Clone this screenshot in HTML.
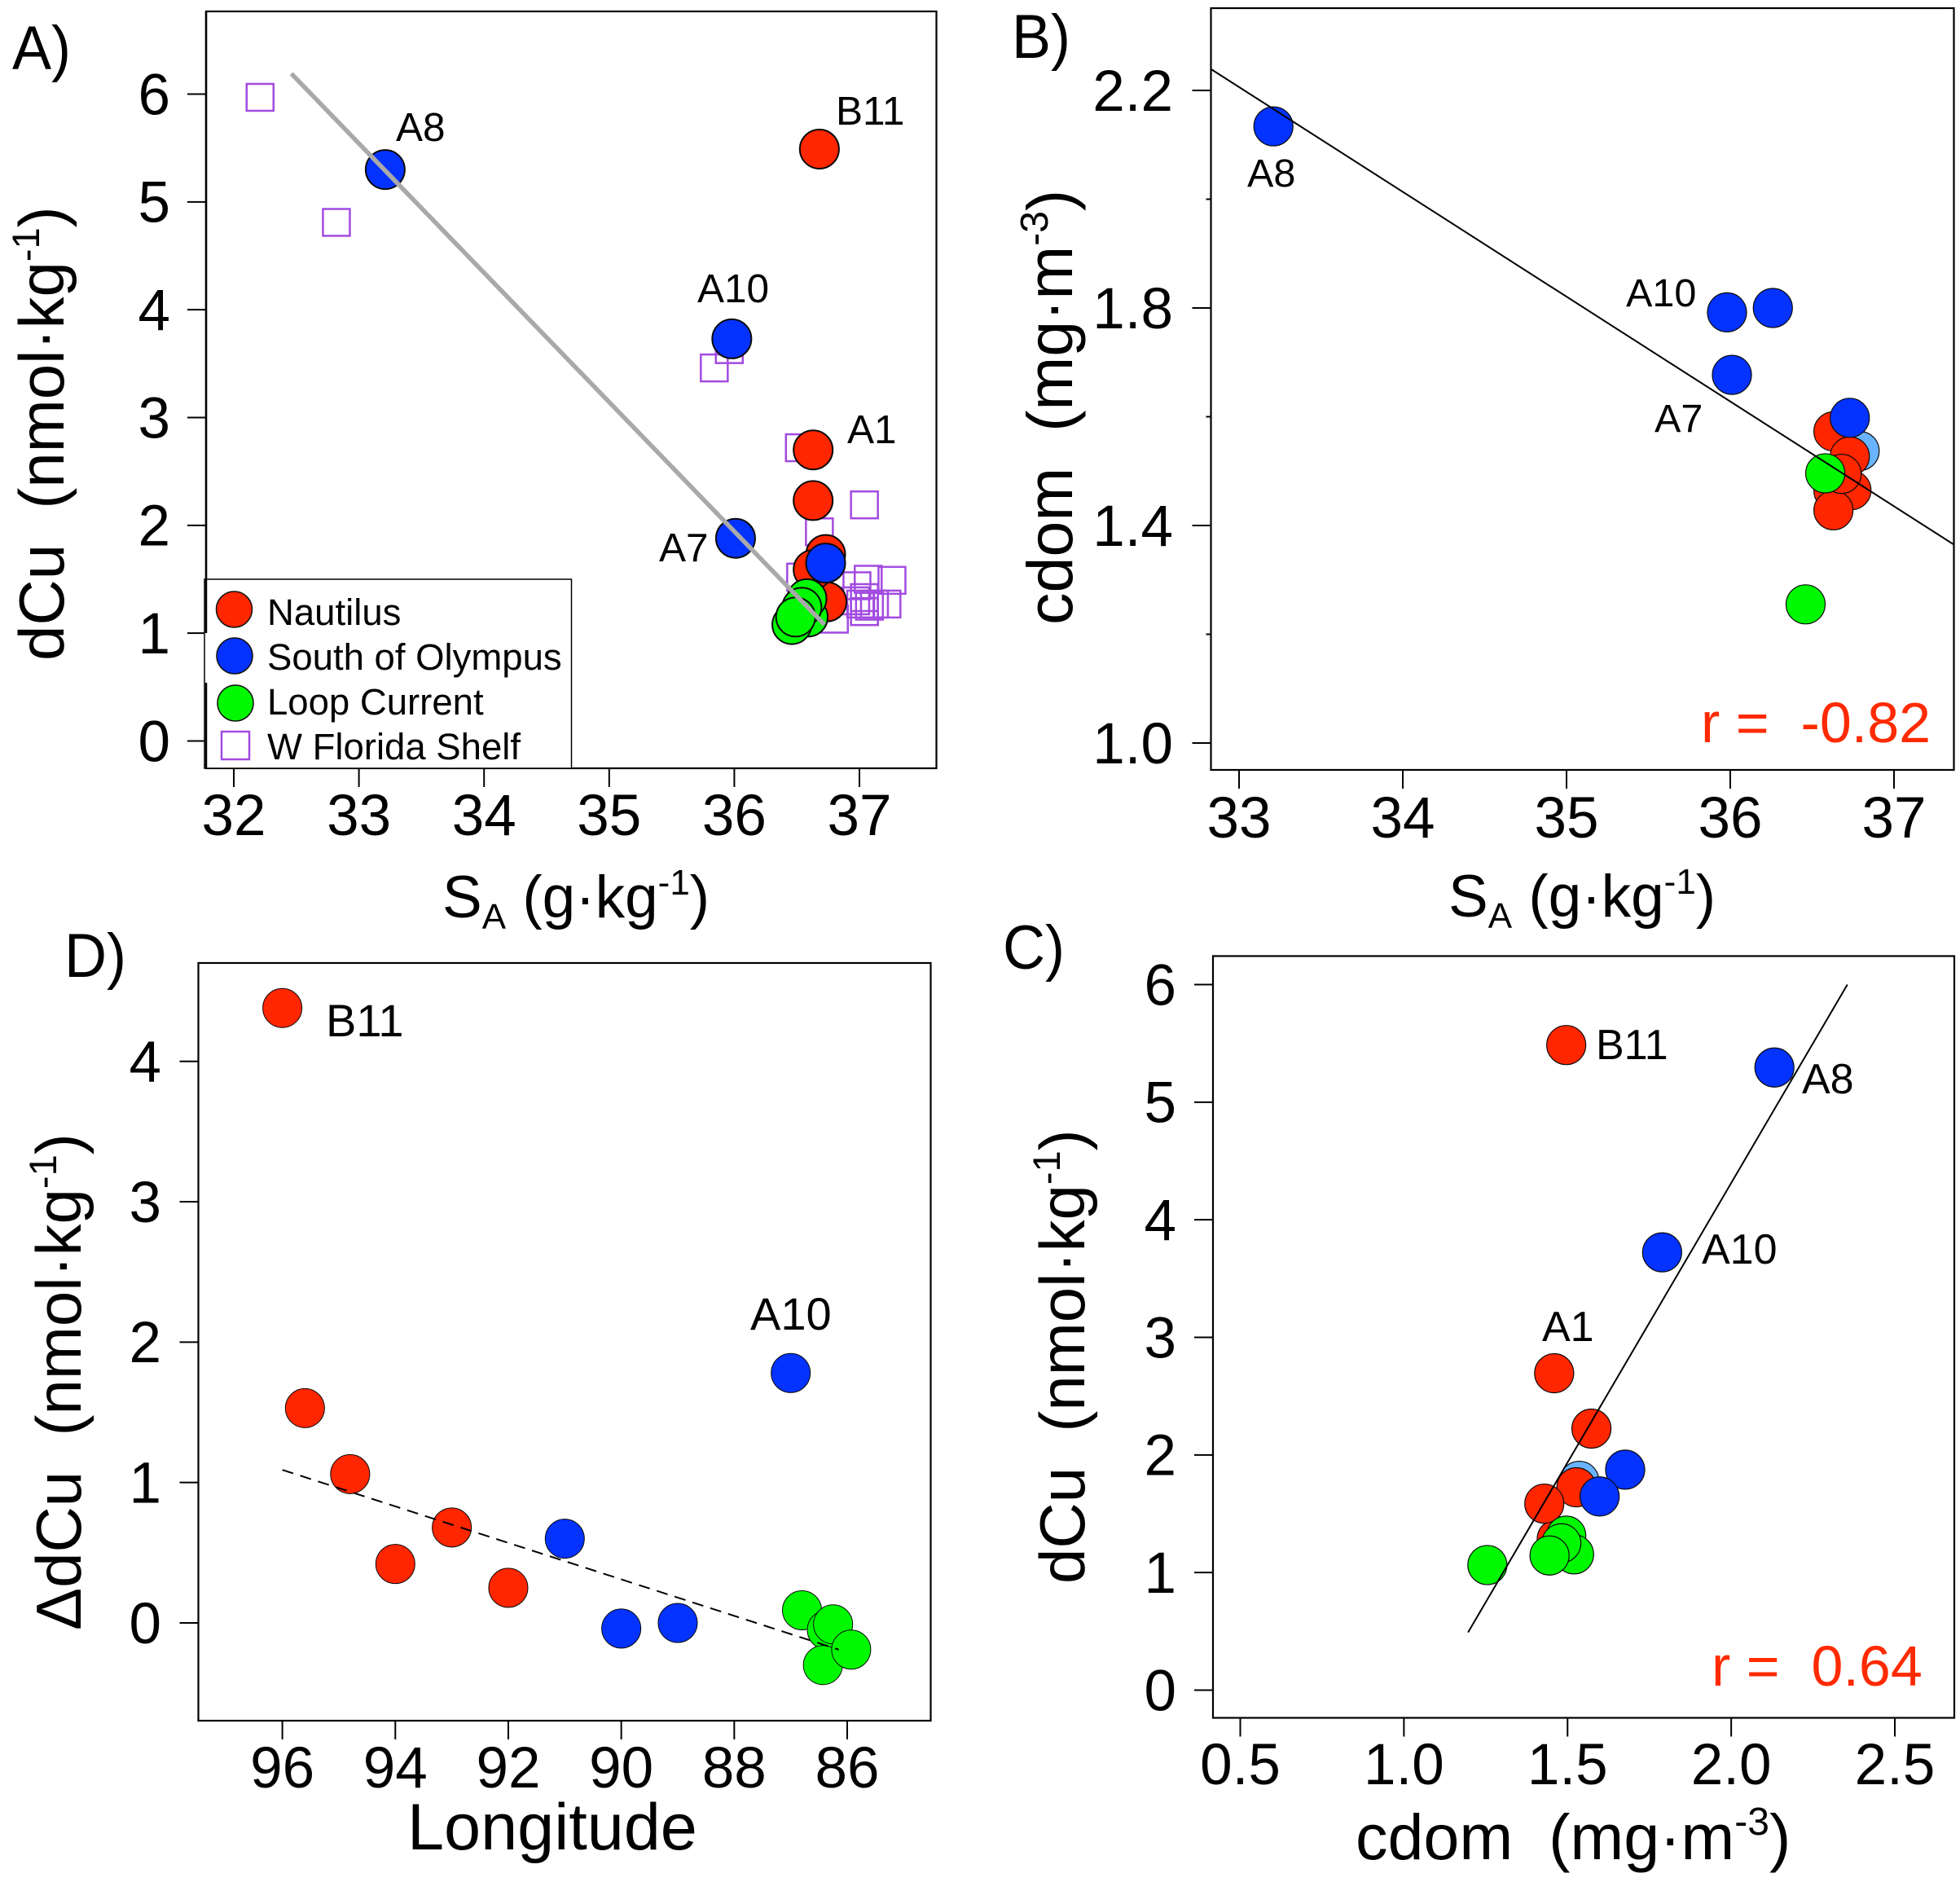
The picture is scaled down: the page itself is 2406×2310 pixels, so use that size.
<!DOCTYPE html>
<html lang="en">
<head>
<meta charset="utf-8">
<title>Copper and cdom scatter panels</title>
<style>
html,body{margin:0;padding:0;background:#fff;}
svg{display:block;}
text{font-family:"Liberation Sans",sans-serif;fill:#000;}
.pa{font-size:49.5px;}
.pb{font-size:48.5px;}
.pc{font-size:52px;}
.pd{font-size:56px;}
.pl{font-size:72px;}
.tt{font-size:78px;}
.leg{font-size:45.5px;}
.rv{font-size:70px;fill:#ff2a00;}
</style>
</head>
<body>
<svg id="fig" xmlns="http://www.w3.org/2000/svg" width="2406" height="2310" viewBox="0 0 2406 2310">
  <rect x="0" y="0" width="2406" height="2310" fill="#fff"/>

  <g id="panelA"></g>
  <g id="panelB"></g>
  <g id="panelC"></g>
  <g id="panelD"></g>

  <g id="overlay">
    <text class="pl" transform="translate(15,85) scale(1,1.06)">A)</text>
    <text class="pl" transform="translate(1242,71) scale(1,1.06)">B)</text>
    <text class="pl" transform="translate(1231,1189) scale(1,1.06)">C)</text>
    <text class="pl" transform="translate(79,1199) scale(1,1.06)">D)</text>

    <text class="pa" x="486" y="173">A8</text>
    <text class="pa" x="1026" y="153">B11</text>
    <text class="pa" x="856" y="371">A10</text>
    <text class="pa" x="1040" y="544">A1</text>
    <text class="pa" x="809" y="689">A7</text>

    <text class="pb" x="1531" y="229">A8</text>
    <text class="pb" x="1996" y="376">A10</text>
    <text class="pb" x="2031" y="530">A7</text>
    <text class="rv" x="2088" y="911" xml:space="preserve">r =  -0.82</text>

    <text class="pc" x="1959" y="1300">B11</text>
    <text class="pc" x="2212" y="1342">A8</text>
    <text class="pc" x="2089" y="1551">A10</text>
    <text class="pc" x="1893" y="1646">A1</text>
    <text class="rv" x="2101" y="2069" xml:space="preserve">r =  0.64</text>

    <text class="pd" x="400" y="1272">B11</text>
    <text class="pd" x="921" y="1632">A10</text>

    <text x="543" y="1126" font-size="73">S<tspan font-size="44" dy="14">A</tspan><tspan dy="-14"> (g·kg</tspan><tspan font-size="44" dy="-28">-1</tspan><tspan dy="28">)</tspan></text>
    <text x="1778" y="1125" font-size="73">S<tspan font-size="44" dy="14">A</tspan><tspan dy="-14"> (g·kg</tspan><tspan font-size="44" dy="-28">-1</tspan><tspan dy="28">)</tspan></text>
    <text x="1664" y="2282" font-size="79" xml:space="preserve">cdom  (mg·m<tspan font-size="48" dy="-30">-3</tspan><tspan dy="30">)</tspan></text>
    <text x="500" y="2270" font-size="81">Longitude</text>

    <text class="tt" transform="translate(78,811) rotate(-90)" xml:space="preserve">dCu  (nmol·kg<tspan font-size="47" dy="-30">-1</tspan><tspan dy="30">)</tspan></text>
    <text font-size="79" transform="translate(1316,767) rotate(-90)" xml:space="preserve">cdom  (mg·m<tspan font-size="48" dy="-30">-3</tspan><tspan dy="30">)</tspan></text>
    <text class="tt" transform="translate(1331,1944) rotate(-90)" xml:space="preserve">dCu  (nmol·kg<tspan font-size="47" dy="-30">-1</tspan><tspan dy="30">)</tspan></text>
    <text class="tt" transform="translate(99,2001) rotate(-90)" xml:space="preserve">ΔdCu  (nmol·kg<tspan font-size="47" dy="-30">-1</tspan><tspan dy="30">)</tspan></text>

    <g>
      <rect x="251" y="711" width="450.5" height="232" fill="#fff" stroke="#000" stroke-width="1.5"/>
      <line x1="253" y1="14" x2="253" y2="777" stroke="#000" stroke-width="2.5"/>
      <line x1="253" y1="838" x2="253" y2="943" stroke="#000" stroke-width="2.5"/>
      <circle cx="287.5" cy="748" r="22" fill="#ff2600" stroke="#111" stroke-width="1.5"/>
      <circle cx="288" cy="805" r="22" fill="#0433ff" stroke="#111" stroke-width="1.5"/>
      <circle cx="289" cy="863" r="22" fill="#00f900" stroke="#111" stroke-width="1.5"/>
      <rect x="272" y="898" width="34" height="34" fill="#fff" stroke="#a24be0" stroke-width="2.5"/>
      <text class="leg" x="328" y="767">Nautilus</text>
      <text class="leg" x="328" y="822">South of Olympus</text>
      <text class="leg" x="328" y="877">Loop Current</text>
      <text class="leg" x="328" y="932">W Florida Shelf</text>
    </g>
  </g>
</svg>

<script>
/* Panel A: dCu vs SA */
var aXTicks = [32, 33, 34, 35, 36, 37];
var aYTicks = [0, 1, 2, 3, 4, 5, 6];
var aShelfSa = [32.21, 32.82, 35.84, 35.96, 36.52, 37.04, 36.68, 36.53, 36.80, 37.07, 37.26, 36.98, 37.04, 37.22, 37.12, 37.04, 36.97, 37.01, 37.04, 37.08];
var aShelfCu = [5.97, 4.81, 3.46, 3.63, 2.72, 2.19, 1.94, 1.52, 1.13, 1.50, 1.49, 1.44, 1.33, 1.27, 1.27, 1.20, 1.30, 1.27, 1.20, 1.25];
var aNautilusSa = [36.68, 36.63, 36.63, 36.74, 36.73, 36.63];
var aNautilusCu = [5.49, 2.70, 2.23, 1.29, 1.73, 1.59];
var aOlympusSa = [33.21, 35.98, 36.01, 36.73];
var aOlympusCu = [5.30, 3.73, 1.88, 1.65];
var aLoopSa = [36.59, 36.58, 36.54, 36.46, 36.49];
var aLoopCu = [1.15, 1.32, 1.24, 1.08, 1.15];
var aFitSa = [32.46, 36.72];
var aFitCu = [6.19, 1.08];

/* Panel B: cdom vs SA */
var bXTicks = [33, 34, 35, 36, 37];
var bYTicks = [1.0, 1.4, 1.8, 2.2];
var bYTickText = ['1.0', '1.4', '1.8', '2.2'];
var bYMinorTicks = [1.2, 1.6, 2.0];
var bPaleSa = [36.79];
var bPaleCdom = [1.537];
var bNautilusSa = [36.63, 36.73, 36.63, 36.74, 36.63, 36.68];
var bNautilusCdom = [1.573, 1.527, 1.464, 1.465, 1.428, 1.495];
var bOlympusSa = [33.21, 35.98, 36.26, 36.01, 36.73];
var bOlympusCdom = [2.134, 1.792, 1.80, 1.677, 1.598];
var bLoopSa = [36.46, 36.58];
var bLoopCdom = [1.255, 1.496];
var bFitSa = [32.83, 37.37];
var bFitCdom = [2.239, 1.364];

/* Panel C: dCu vs cdom */
var cXTicks = [0.5, 1.0, 1.5, 2.0, 2.5];
var cXTickText = ['0.5', '1.0', '1.5', '2.0', '2.5'];
var cYTicks = [0, 1, 2, 3, 4, 5, 6];
var cPaleCdom = [1.536];
var cPaleCu = [1.78];
var cNautilusCdom = [1.496, 1.459, 1.573, 1.467, 1.527, 1.429];
var cNautilusCu = [5.486, 2.695, 2.224, 1.286, 1.725, 1.586];
var cOlympusCdom = [2.132, 1.789, 1.676, 1.598];
var cOlympusCu = [5.295, 3.723, 1.875, 1.647];
var cLoopCdom = [1.255, 1.496, 1.52, 1.481, 1.445];
var cLoopCu = [1.064, 1.314, 1.155, 1.249, 1.145];
var cFitCdom = [1.196, 2.355];
var cFitCu = [0.491, 6.0];

/* Panel D: delta dCu vs longitude */
var dXTicks = [96, 94, 92, 90, 88, 86];
var dYTicks = [0, 1, 2, 3, 4];
var dNautilusLon = [96, 95.6, 94.8, 94, 93, 92];
var dNautilusDelta = [4.38, 1.53, 1.06, 0.42, 0.68, 0.25];
var dOlympusLon = [91, 90, 89, 87];
var dOlympusDelta = [0.60, -0.04, 0, 1.78];
var dLoopLon = [86.8, 86.36, 86.25, 86.43, 85.93];
var dLoopDelta = [0.09, -0.05, -0.01, -0.30, -0.19];
var dFitLon = [96, 86.15];
var dFitDelta = [1.09, -0.19];

var NS = 'http://www.w3.org/2000/svg';
var RED = '#ff2600', BLUE = '#0433ff', GREEN = '#00f900', PALE = '#6ab4ff', PURPLE = '#a24be0';

function linear(d0, p0, d1, p1) {
  return function (v) { return p0 + (v - d0) * (p1 - p0) / (d1 - d0); };
}

function make(tag, attrs, parent) {
  var el = document.createElementNS(NS, tag);
  for (var k in attrs) { el.setAttribute(k, attrs[k]); }
  parent.appendChild(el);
  return el;
}

function frame(parent, box) {
  var el = make('rect', {x: box.l, y: box.t, width: box.r - box.l, height: box.b - box.t, fill: '#fff', stroke: '#000', 'stroke-width': 2.2}, parent);
  
  
}

function xAxis(parent, box, ticks, texts, sx, labelY, fontSize) {
  ticks.forEach(function (t, i) {
    var mark = make('line', {x1: sx(t), x2: sx(t), y1: box.b, y2: box.b + 23, stroke: '#000', 'stroke-width': 2}, parent);
    
    
    var label = make('text', {x: sx(t), y: labelY, 'text-anchor': 'middle', 'font-size': fontSize}, parent);
    
    
    label.textContent = texts[i];
  });
}

function yAxis(parent, box, ticks, texts, sy, labelRight, fontSize) {
  ticks.forEach(function (t, i) {
    var mark = make('line', {x1: box.l - 23, x2: box.l, y1: sy(t), y2: sy(t), stroke: '#000', 'stroke-width': 2}, parent);
    
    
    var label = make('text', {x: labelRight, y: sy(t) + fontSize * 0.35, 'text-anchor': 'end', 'font-size': fontSize}, parent);
    
    
    label.textContent = texts[i];
  });
}

function yMinor(parent, box, ticks, sy) {
  ticks.forEach(function (t) {
    var mark = make('line', {x1: box.l - 6, x2: box.l, y1: sy(t), y2: sy(t), stroke: '#000', 'stroke-width': 2}, parent);
    
    
  });
}

function circles(parent, xs, ys, sx, sy, fill, r, sw, name) {
  xs.forEach(function (x, i) {
    var dot = make('circle', {cx: sx(x), cy: sy(ys[i]), r: r, fill: fill, stroke: '#0a0a0a', 'stroke-width': sw}, parent);
    
    
  });
}

function squares(parent, xs, ys, sx, sy, size, name) {
  xs.forEach(function (x, i) {
    var sq = make('rect', {x: sx(x) - size / 2, y: sy(ys[i]) - size / 2, width: size, height: size, fill: 'none', stroke: PURPLE, 'stroke-width': 2.5}, parent);
    
    
  });
}

function fit(parent, xs, ys, sx, sy, color, width, dash, clip) {
  var attrs = {x1: sx(xs[0]), y1: sy(ys[0]), x2: sx(xs[1]), y2: sy(ys[1]), stroke: color, 'stroke-width': width};
  if (dash) { attrs['stroke-dasharray'] = dash; }
  if (clip) { attrs['clip-path'] = clip; }
  var line = make('line', attrs, parent);
  
  
}

function same(a) { return a.map(String); }

var fig = document.getElementById('fig');
var defs = make('defs', {}, fig);
var clipB = make('clipPath', {id: 'clip-b'}, defs);
make('rect', {x: 1486.5, y: 10, width: 912, height: 935}, clipB);

/* Panel A */
(function () {
  var g = document.getElementById('panelA');
  var box = {l: 253, r: 1149.5, t: 14, b: 943};
  var sx = linear(32, 287, 37, 1055);
  var sy = linear(0, 909.5, 6, 115.5);
  frame(g, box);
  xAxis(g, box, aXTicks, same(aXTicks), sx, 1025, 71);
  yAxis(g, box, aYTicks, same(aYTicks), sy, 209, 71);
  squares(g, aShelfSa, aShelfCu, sx, sy, 33, 'w-florida-shelf-point');
  circles(g, aNautilusSa, aNautilusCu, sx, sy, RED, 24, 2, 'nautilus-point');
  circles(g, aOlympusSa, aOlympusCu, sx, sy, BLUE, 24, 2, 'south-of-olympus-point');
  circles(g, aLoopSa, aLoopCu, sx, sy, GREEN, 24, 2, 'loop-current-point');
  fit(g, aFitSa, aFitCu, sx, sy, '#a9a9a9', 5.5);
})();

/* Panel B */
(function () {
  var g = document.getElementById('panelB');
  var box = {l: 1486.5, r: 2398.5, t: 10, b: 945};
  var sx = linear(33, 1521, 37, 2325);
  var sy = linear(1.0, 912, 2.2, 111);
  frame(g, box);
  xAxis(g, box, bXTicks, same(bXTicks), sx, 1028, 71);
  yAxis(g, box, bYTicks, bYTickText, sy, 1440, 71);
  yMinor(g, box, bYMinorTicks, sy);
  circles(g, bPaleSa, bPaleCdom, sx, sy, PALE, 24, 1.2, 'pale-blue-point');
  circles(g, bNautilusSa, bNautilusCdom, sx, sy, RED, 24, 1.2, 'nautilus-point');
  circles(g, bOlympusSa, bOlympusCdom, sx, sy, BLUE, 24, 1.2, 'south-of-olympus-point');
  circles(g, bLoopSa, bLoopCdom, sx, sy, GREEN, 24, 1.2, 'loop-current-point');
  fit(g, bFitSa, bFitCdom, sx, sy, '#000', 2, null, 'url(#clip-b)');
})();

/* Panel C */
(function () {
  var g = document.getElementById('panelC');
  var box = {l: 1489, r: 2399, t: 1173.5, b: 2108.5};
  var sx = linear(0.5, 1522.5, 2.5, 2326);
  var sy = linear(0, 2074.5, 6, 1208.5);
  frame(g, box);
  xAxis(g, box, cXTicks, cXTickText, sx, 2190, 71);
  yAxis(g, box, cYTicks, same(cYTicks), sy, 1444, 71);
  circles(g, cPaleCdom, cPaleCu, sx, sy, PALE, 24, 1.2, 'pale-blue-point');
  circles(g, cNautilusCdom, cNautilusCu, sx, sy, RED, 24, 1.2, 'nautilus-point');
  circles(g, cOlympusCdom, cOlympusCu, sx, sy, BLUE, 24, 1.2, 'south-of-olympus-point');
  circles(g, cLoopCdom, cLoopCu, sx, sy, GREEN, 24, 1.2, 'loop-current-point');
  fit(g, cFitCdom, cFitCu, sx, sy, '#000', 2);
})();

/* Panel D */
(function () {
  var g = document.getElementById('panelD');
  var box = {l: 243.5, r: 1142.5, t: 1182, b: 2112};
  var sx = linear(96, 346.6, 86, 1040);
  var sy = linear(0, 1992, 4, 1302.7);
  frame(g, box);
  xAxis(g, box, dXTicks, same(dXTicks), sx, 2194, 71);
  yAxis(g, box, dYTicks, same(dYTicks), sy, 198, 71);
  circles(g, dNautilusLon, dNautilusDelta, sx, sy, RED, 24, 1, 'nautilus-point');
  circles(g, dOlympusLon, dOlympusDelta, sx, sy, BLUE, 24, 1, 'south-of-olympus-point');
  circles(g, dLoopLon, dLoopDelta, sx, sy, GREEN, 24, 1, 'loop-current-point');
  fit(g, dFitLon, dFitDelta, sx, sy, '#000', 2, '14 9');
})();
</script>
</body>
</html>
